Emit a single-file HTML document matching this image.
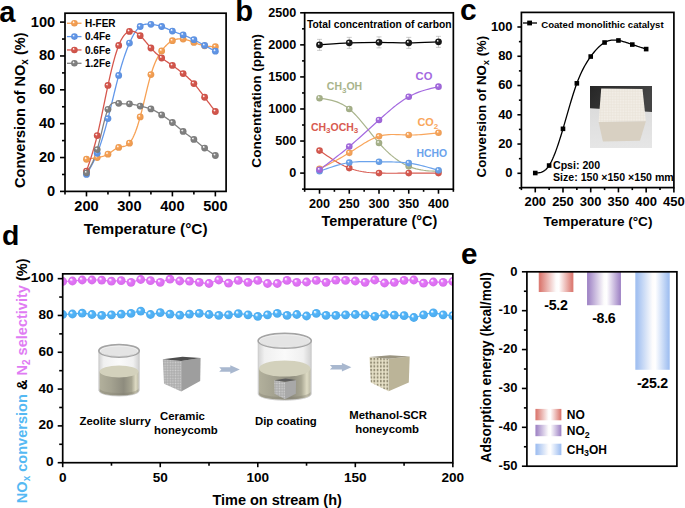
<!DOCTYPE html>
<html><head><meta charset="utf-8"><style>
html,body{margin:0;padding:0;background:#fff;}
svg{display:block;font-family:"Liberation Sans", sans-serif;}
</style></head><body>
<svg width="685" height="508" viewBox="0 0 685 508">
<defs><radialGradient id="g0" cx="0.5" cy="0.5" r="0.5" fx="0.32" fy="0.3"><stop offset="0" stop-color="#fef3ea"/><stop offset="0.12" stop-color="#fef3ea"/><stop offset="0.38" stop-color="#f7a154"/><stop offset="1" stop-color="#e8974e"/></radialGradient><radialGradient id="g1" cx="0.5" cy="0.5" r="0.5" fx="0.32" fy="0.3"><stop offset="0" stop-color="#ecf2fc"/><stop offset="0.12" stop-color="#ecf2fc"/><stop offset="0.38" stop-color="#6298ea"/><stop offset="1" stop-color="#5c8edb"/></radialGradient><radialGradient id="g2" cx="0.5" cy="0.5" r="0.5" fx="0.32" fy="0.3"><stop offset="0" stop-color="#faeae9"/><stop offset="0.12" stop-color="#faeae9"/><stop offset="0.38" stop-color="#d6574d"/><stop offset="1" stop-color="#c95148"/></radialGradient><radialGradient id="g3" cx="0.5" cy="0.5" r="0.5" fx="0.32" fy="0.3"><stop offset="0" stop-color="#f0f0f0"/><stop offset="0.12" stop-color="#f0f0f0"/><stop offset="0.38" stop-color="#828282"/><stop offset="1" stop-color="#7a7a7a"/></radialGradient><radialGradient id="g4" cx="0.5" cy="0.5" r="0.5" fx="0.32" fy="0.3"><stop offset="0" stop-color="#f4f6f1"/><stop offset="0.12" stop-color="#f4f6f1"/><stop offset="0.38" stop-color="#a9b48c"/><stop offset="1" stop-color="#9ea983"/></radialGradient><radialGradient id="g5" cx="0.5" cy="0.5" r="0.5" fx="0.32" fy="0.3"><stop offset="0" stop-color="#faebea"/><stop offset="0.12" stop-color="#faebea"/><stop offset="0.38" stop-color="#d85a50"/><stop offset="1" stop-color="#cb544b"/></radialGradient><radialGradient id="g6" cx="0.5" cy="0.5" r="0.5" fx="0.32" fy="0.3"><stop offset="0" stop-color="#fef4eb"/><stop offset="0.12" stop-color="#fef4eb"/><stop offset="0.38" stop-color="#f9a65c"/><stop offset="1" stop-color="#ea9c56"/></radialGradient><radialGradient id="g7" cx="0.5" cy="0.5" r="0.5" fx="0.32" fy="0.3"><stop offset="0" stop-color="#edf3fc"/><stop offset="0.12" stop-color="#edf3fc"/><stop offset="0.38" stop-color="#6ba3ec"/><stop offset="1" stop-color="#6499dd"/></radialGradient><radialGradient id="g8" cx="0.5" cy="0.5" r="0.5" fx="0.32" fy="0.3"><stop offset="0" stop-color="#f4edfb"/><stop offset="0.12" stop-color="#f4edfb"/><stop offset="0.38" stop-color="#a46ae0"/><stop offset="1" stop-color="#9a63d2"/></radialGradient><radialGradient id="g9" cx="0.5" cy="0.5" r="0.5" fx="0.32" fy="0.3"><stop offset="0" stop-color="#e3e3e3"/><stop offset="0.12" stop-color="#e3e3e3"/><stop offset="0.38" stop-color="#1a1a1a"/><stop offset="1" stop-color="#181818"/></radialGradient><clipPath id="clipd"><rect x="62.7" y="273.85" width="390.15000000000003" height="188.84999999999997"/></clipPath><radialGradient id="g10" cx="0.5" cy="0.5" r="0.5" fx="0.32" fy="0.3"><stop offset="0" stop-color="#fbeefe"/><stop offset="0.12" stop-color="#fbeefe"/><stop offset="0.38" stop-color="#e475f9"/><stop offset="1" stop-color="#d66dea"/></radialGradient><radialGradient id="g11" cx="0.5" cy="0.5" r="0.5" fx="0.32" fy="0.3"><stop offset="0" stop-color="#eaf6fe"/><stop offset="0.12" stop-color="#eaf6fe"/><stop offset="0.38" stop-color="#52b5fa"/><stop offset="1" stop-color="#4daaeb"/></radialGradient><linearGradient id="liq" x1="0" y1="0" x2="1" y2="0"><stop offset="0" stop-color="#b2b09c"/><stop offset="0.3" stop-color="#a4a290"/><stop offset="0.62" stop-color="#8e8c7e"/><stop offset="0.82" stop-color="#a8a692"/><stop offset="0.93" stop-color="#dedbc4"/><stop offset="1" stop-color="#bebca8"/></linearGradient>
<linearGradient id="glass" x1="0" y1="0" x2="1" y2="0"><stop offset="0" stop-color="#d4d4d4"/><stop offset="0.12" stop-color="#f0f0f0"/><stop offset="0.5" stop-color="#fafafa"/><stop offset="0.85" stop-color="#f0f0f0"/><stop offset="1" stop-color="#d0d0d0"/></linearGradient>
<pattern id="gcell" width="2.6" height="2.6" patternUnits="userSpaceOnUse"><rect width="2.6" height="2.6" fill="#a8a8a8"/><rect x="0.5" y="0.5" width="1.6" height="1.6" fill="#d0d0d0"/></pattern>
<pattern id="bcell" x="369.4" y="357" width="3.25" height="3.7" patternUnits="userSpaceOnUse"><rect width="3.25" height="3.7" fill="#e9e3ca"/><rect x="0.8" y="0.8" width="1.8" height="2.3" fill="#948e76"/></pattern><linearGradient id="bar0" x1="0" y1="0" x2="1" y2="0"><stop offset="0" stop-color="#dc7d75"/><stop offset="0.05" stop-color="#dc7d75"/><stop offset="0.5" stop-color="#fdfcfc"/><stop offset="0.58" stop-color="#fff"/><stop offset="0.96" stop-color="#dc7d75"/><stop offset="1" stop-color="#dc7d75"/></linearGradient><linearGradient id="bar1" x1="0" y1="0" x2="1" y2="0"><stop offset="0" stop-color="#a48ac8"/><stop offset="0.05" stop-color="#a48ac8"/><stop offset="0.5" stop-color="#fdfcfc"/><stop offset="0.58" stop-color="#fff"/><stop offset="0.96" stop-color="#a48ac8"/><stop offset="1" stop-color="#a48ac8"/></linearGradient><linearGradient id="bar2" x1="0" y1="0" x2="1" y2="0"><stop offset="0" stop-color="#a3c1f1"/><stop offset="0.05" stop-color="#a3c1f1"/><stop offset="0.5" stop-color="#fdfcfc"/><stop offset="0.58" stop-color="#fff"/><stop offset="0.96" stop-color="#a3c1f1"/><stop offset="1" stop-color="#a3c1f1"/></linearGradient></defs>
<rect width="685" height="508" fill="#fff"/>
<text x="-0.8" y="21.6" font-size="29" text-anchor="start" fill="#000" font-weight="bold" >a</text>
<line x1="60" y1="191.4" x2="65" y2="191.4" stroke="#000" stroke-width="1.6" />
<text x="55.2" y="195.8" font-size="14.6" text-anchor="end" fill="#000" font-weight="bold" >0</text>
<line x1="62" y1="174.47" x2="65" y2="174.47" stroke="#000" stroke-width="1.6" />
<line x1="60" y1="157.54" x2="65" y2="157.54" stroke="#000" stroke-width="1.6" />
<text x="55.2" y="161.94" font-size="14.6" text-anchor="end" fill="#000" font-weight="bold" >20</text>
<line x1="62" y1="140.61" x2="65" y2="140.61" stroke="#000" stroke-width="1.6" />
<line x1="60" y1="123.68" x2="65" y2="123.68" stroke="#000" stroke-width="1.6" />
<text x="55.2" y="128.08" font-size="14.6" text-anchor="end" fill="#000" font-weight="bold" >40</text>
<line x1="62" y1="106.75" x2="65" y2="106.75" stroke="#000" stroke-width="1.6" />
<line x1="60" y1="89.82" x2="65" y2="89.82" stroke="#000" stroke-width="1.6" />
<text x="55.2" y="94.22" font-size="14.6" text-anchor="end" fill="#000" font-weight="bold" >60</text>
<line x1="62" y1="72.89" x2="65" y2="72.89" stroke="#000" stroke-width="1.6" />
<line x1="60" y1="55.96" x2="65" y2="55.96" stroke="#000" stroke-width="1.6" />
<text x="55.2" y="60.36" font-size="14.6" text-anchor="end" fill="#000" font-weight="bold" >80</text>
<line x1="62" y1="39.03" x2="65" y2="39.03" stroke="#000" stroke-width="1.6" />
<line x1="60" y1="22.1" x2="65" y2="22.1" stroke="#000" stroke-width="1.6" />
<text x="55.2" y="26.5" font-size="14.6" text-anchor="end" fill="#000" font-weight="bold" >100</text>
<line x1="65" y1="191.4" x2="65" y2="194.6" stroke="#000" stroke-width="1.6" />
<line x1="86.48" y1="191.4" x2="86.48" y2="196.4" stroke="#000" stroke-width="1.6" />
<text x="86.48" y="211" font-size="14.6" text-anchor="middle" fill="#000" font-weight="bold" >200</text>
<line x1="107.96" y1="191.4" x2="107.96" y2="194.6" stroke="#000" stroke-width="1.6" />
<line x1="129.44" y1="191.4" x2="129.44" y2="196.4" stroke="#000" stroke-width="1.6" />
<text x="129.44" y="211" font-size="14.6" text-anchor="middle" fill="#000" font-weight="bold" >300</text>
<line x1="150.92" y1="191.4" x2="150.92" y2="194.6" stroke="#000" stroke-width="1.6" />
<line x1="172.4" y1="191.4" x2="172.4" y2="196.4" stroke="#000" stroke-width="1.6" />
<text x="172.4" y="211" font-size="14.6" text-anchor="middle" fill="#000" font-weight="bold" >400</text>
<line x1="193.88" y1="191.4" x2="193.88" y2="194.6" stroke="#000" stroke-width="1.6" />
<line x1="215.36" y1="191.4" x2="215.36" y2="196.4" stroke="#000" stroke-width="1.6" />
<text x="215.36" y="211" font-size="14.6" text-anchor="middle" fill="#000" font-weight="bold" >500</text>
<text x="145.6" y="233.6" font-size="15.4" text-anchor="middle" fill="#000" font-weight="bold" >Temperature (°C)</text>
<text transform="translate(24.8,110.2) rotate(-90)" font-size="14.5" text-anchor="middle" font-weight="bold">Conversion of NO<tspan font-size="10" dy="3">x</tspan><tspan dy="-3"> (%)</tspan></text>
<path d="M86.48,159.23 L87.38,159.1 L88.27,158.96 L89.17,158.83 L90.06,158.69 L90.95,158.55 L91.85,158.42 L92.75,158.27 L93.64,158.13 L94.53,157.99 L95.43,157.84 L96.33,157.69 L97.22,157.54 L98.11,157.38 L99.01,157.22 L99.91,157.04 L100.8,156.85 L101.7,156.64 L102.59,156.4 L103.48,156.13 L104.38,155.82 L105.28,155.47 L106.17,155.08 L107.07,154.65 L107.96,154.15 L108.86,153.61 L109.75,153.02 L110.65,152.39 L111.54,151.75 L112.44,151.09 L113.33,150.45 L114.22,149.82 L115.12,149.22 L116.01,148.66 L116.91,148.16 L117.8,147.73 L118.7,147.38 L119.59,147.12 L120.49,146.92 L121.38,146.77 L122.28,146.64 L123.17,146.49 L124.07,146.32 L124.96,146.08 L125.86,145.76 L126.75,145.34 L127.65,144.78 L128.54,144.06 L129.44,143.15 L130.34,142.04 L131.23,140.72 L132.12,139.2 L133.02,137.48 L133.91,135.56 L134.81,133.45 L135.71,131.15 L136.6,128.66 L137.5,125.99 L138.39,123.14 L139.28,120.11 L140.18,116.91 L141.08,113.54 L141.97,110.04 L142.87,106.43 L143.76,102.75 L144.66,99.03 L145.55,95.3 L146.45,91.6 L147.34,87.95 L148.24,84.4 L149.13,80.96 L150.03,77.68 L150.92,74.58 L151.82,71.7 L152.71,69.02 L153.61,66.54 L154.5,64.23 L155.4,62.1 L156.29,60.12 L157.19,58.29 L158.08,56.59 L158.97,55.02 L159.87,53.55 L160.76,52.17 L161.66,50.88 L162.56,49.66 L163.45,48.52 L164.34,47.44 L165.24,46.43 L166.13,45.49 L167.03,44.61 L167.92,43.81 L168.82,43.06 L169.71,42.38 L170.61,41.77 L171.5,41.21 L172.4,40.72 L173.29,40.29 L174.19,39.92 L175.08,39.6 L175.98,39.34 L176.87,39.14 L177.77,38.98 L178.66,38.88 L179.56,38.82 L180.45,38.81 L181.35,38.84 L182.24,38.92 L183.14,39.03 L184.03,39.18 L184.93,39.37 L185.82,39.59 L186.72,39.84 L187.61,40.11 L188.51,40.41 L189.41,40.72 L190.3,41.04 L191.19,41.38 L192.09,41.72 L192.98,42.07 L193.88,42.42 L194.78,42.76 L195.67,43.1 L196.56,43.43 L197.46,43.76 L198.35,44.07 L199.25,44.37 L200.15,44.65 L201.04,44.92 L201.94,45.18 L202.83,45.41 L203.72,45.62 L204.62,45.8 L205.52,45.96 L206.41,46.1 L207.31,46.22 L208.2,46.31 L209.09,46.39 L209.99,46.46 L210.88,46.51 L211.78,46.55 L212.67,46.58 L213.57,46.61 L214.46,46.63 L215.36,46.65" fill="none" stroke="#f7a154" stroke-width="1.3" stroke-linejoin="round"/>
<path d="M86.48,174.47 L87.38,172.94 L88.27,171.41 L89.17,169.85 L90.06,168.27 L90.95,166.64 L91.85,164.97 L92.75,163.23 L93.64,161.43 L94.53,159.54 L95.43,157.57 L96.33,155.49 L97.22,153.31 L98.11,151.01 L99.01,148.59 L99.91,146.05 L100.8,143.41 L101.7,140.66 L102.59,137.8 L103.48,134.84 L104.38,131.78 L105.28,128.62 L106.17,125.37 L107.07,122.03 L107.96,118.6 L108.86,115.09 L109.75,111.51 L110.65,107.87 L111.54,104.2 L112.44,100.51 L113.33,96.81 L114.22,93.13 L115.12,89.47 L116.01,85.86 L116.91,82.3 L117.8,78.82 L118.7,75.43 L119.59,72.15 L120.49,68.97 L121.38,65.9 L122.28,62.94 L123.17,60.08 L124.07,57.33 L124.96,54.69 L125.86,52.16 L126.75,49.73 L127.65,47.41 L128.54,45.2 L129.44,43.09 L130.34,41.09 L131.23,39.2 L132.12,37.42 L133.02,35.75 L133.91,34.19 L134.81,32.75 L135.71,31.41 L136.6,30.2 L137.5,29.1 L138.39,28.11 L139.28,27.25 L140.18,26.5 L141.08,25.88 L141.97,25.36 L142.87,24.95 L143.76,24.63 L144.66,24.39 L145.55,24.23 L146.45,24.14 L147.34,24.09 L148.24,24.1 L149.13,24.14 L150.03,24.21 L150.92,24.3 L151.82,24.4 L152.71,24.51 L153.61,24.63 L154.5,24.77 L155.4,24.92 L156.29,25.08 L157.19,25.27 L158.08,25.47 L158.97,25.69 L159.87,25.94 L160.76,26.21 L161.66,26.5 L162.56,26.82 L163.45,27.17 L164.34,27.53 L165.24,27.91 L166.13,28.3 L167.03,28.7 L167.92,29.1 L168.82,29.51 L169.71,29.91 L170.61,30.31 L171.5,30.7 L172.4,31.07 L173.29,31.43 L174.19,31.78 L175.08,32.11 L175.98,32.44 L176.87,32.76 L177.77,33.07 L178.66,33.38 L179.56,33.69 L180.45,34 L181.35,34.32 L182.24,34.64 L183.14,34.97 L184.03,35.31 L184.93,35.66 L185.82,36.02 L186.72,36.39 L187.61,36.77 L188.51,37.16 L189.41,37.57 L190.3,37.98 L191.19,38.4 L192.09,38.82 L192.98,39.26 L193.88,39.71 L194.78,40.16 L195.67,40.62 L196.56,41.09 L197.46,41.57 L198.35,42.05 L199.25,42.53 L200.15,43.01 L201.04,43.5 L201.94,43.99 L202.83,44.48 L203.72,44.97 L204.62,45.46 L205.52,45.95 L206.41,46.44 L207.31,46.92 L208.2,47.4 L209.09,47.88 L209.99,48.36 L210.88,48.84 L211.78,49.32 L212.67,49.79 L213.57,50.27 L214.46,50.74 L215.36,51.22" fill="none" stroke="#6298ea" stroke-width="1.3" stroke-linejoin="round"/>
<path d="M86.48,171.08 L87.38,168.47 L88.27,165.84 L89.17,163.18 L90.06,160.48 L90.95,157.72 L91.85,154.89 L92.75,151.97 L93.64,148.94 L94.53,145.8 L95.43,142.53 L96.33,139.11 L97.22,135.53 L98.11,131.78 L99.01,127.88 L99.91,123.85 L100.8,119.71 L101.7,115.48 L102.59,111.19 L103.48,106.87 L104.38,102.52 L105.28,98.18 L106.17,93.87 L107.07,89.61 L107.96,85.42 L108.86,81.32 L109.75,77.33 L110.65,73.46 L111.54,69.71 L112.44,66.1 L113.33,62.64 L114.22,59.33 L115.12,56.18 L116.01,53.21 L116.91,50.43 L117.8,47.84 L118.7,45.46 L119.59,43.29 L120.49,41.33 L121.38,39.57 L122.28,38 L123.17,36.62 L124.07,35.41 L124.96,34.37 L125.86,33.49 L126.75,32.76 L127.65,32.18 L128.54,31.73 L129.44,31.41 L130.34,31.21 L131.23,31.13 L132.12,31.16 L133.02,31.3 L133.91,31.54 L134.81,31.87 L135.71,32.3 L136.6,32.81 L137.5,33.41 L138.39,34.08 L139.28,34.83 L140.18,35.64 L141.08,36.52 L141.97,37.45 L142.87,38.43 L143.76,39.45 L144.66,40.5 L145.55,41.57 L146.45,42.66 L147.34,43.75 L148.24,44.84 L149.13,45.91 L150.03,46.97 L150.92,48 L151.82,49 L152.71,49.96 L153.61,50.89 L154.5,51.79 L155.4,52.66 L156.29,53.5 L157.19,54.31 L158.08,55.09 L158.97,55.85 L159.87,56.59 L160.76,57.3 L161.66,57.99 L162.56,58.66 L163.45,59.32 L164.34,59.95 L165.24,60.58 L166.13,61.2 L167.03,61.81 L167.92,62.41 L168.82,63.01 L169.71,63.61 L170.61,64.21 L171.5,64.82 L172.4,65.44 L173.29,66.07 L174.19,66.7 L175.08,67.35 L175.98,68.01 L176.87,68.67 L177.77,69.35 L178.66,70.03 L179.56,70.72 L180.45,71.42 L181.35,72.13 L182.24,72.84 L183.14,73.57 L184.03,74.3 L184.93,75.04 L185.82,75.79 L186.72,76.56 L187.61,77.35 L188.51,78.15 L189.41,78.98 L190.3,79.84 L191.19,80.72 L192.09,81.63 L192.98,82.58 L193.88,83.56 L194.78,84.57 L195.67,85.63 L196.56,86.71 L197.46,87.82 L198.35,88.95 L199.25,90.11 L200.15,91.28 L201.04,92.47 L201.94,93.66 L202.83,94.86 L203.72,96.07 L204.62,97.27 L205.52,98.47 L206.41,99.67 L207.31,100.86 L208.2,102.05 L209.09,103.23 L209.99,104.42 L210.88,105.6 L211.78,106.78 L212.67,107.96 L213.57,109.14 L214.46,110.31 L215.36,111.49" fill="none" stroke="#d6574d" stroke-width="1.3" stroke-linejoin="round"/>
<path d="M86.48,172.78 L87.38,171.42 L88.27,170.03 L89.17,168.6 L90.06,167.1 L90.95,165.5 L91.85,163.78 L92.75,161.92 L93.64,159.88 L94.53,157.66 L95.43,155.21 L96.33,152.53 L97.22,149.58 L98.11,146.36 L99.01,142.91 L99.91,139.29 L100.8,135.57 L101.7,131.8 L102.59,128.05 L103.48,124.37 L104.38,120.84 L105.28,117.5 L106.17,114.42 L107.07,111.66 L107.96,109.29 L108.86,107.34 L109.75,105.8 L110.65,104.61 L111.54,103.74 L112.44,103.16 L113.33,102.81 L114.22,102.65 L115.12,102.65 L116.01,102.76 L116.91,102.95 L117.8,103.16 L118.7,103.36 L119.59,103.52 L120.49,103.64 L121.38,103.72 L122.28,103.76 L123.17,103.78 L124.07,103.79 L124.96,103.79 L125.86,103.78 L126.75,103.78 L127.65,103.79 L128.54,103.82 L129.44,103.87 L130.34,103.96 L131.23,104.07 L132.12,104.22 L133.02,104.38 L133.91,104.56 L134.81,104.76 L135.71,104.97 L136.6,105.19 L137.5,105.41 L138.39,105.64 L139.28,105.86 L140.18,106.07 L141.08,106.28 L141.97,106.48 L142.87,106.68 L143.76,106.88 L144.66,107.09 L145.55,107.3 L146.45,107.53 L147.34,107.77 L148.24,108.03 L149.13,108.31 L150.03,108.61 L150.92,108.95 L151.82,109.32 L152.71,109.72 L153.61,110.15 L154.5,110.6 L155.4,111.08 L156.29,111.57 L157.19,112.09 L158.08,112.62 L158.97,113.17 L159.87,113.73 L160.76,114.3 L161.66,114.88 L162.56,115.46 L163.45,116.05 L164.34,116.64 L165.24,117.25 L166.13,117.86 L167.03,118.48 L167.92,119.12 L168.82,119.76 L169.71,120.42 L170.61,121.1 L171.5,121.79 L172.4,122.49 L173.29,123.22 L174.19,123.96 L175.08,124.71 L175.98,125.46 L176.87,126.23 L177.77,126.99 L178.66,127.76 L179.56,128.52 L180.45,129.27 L181.35,130.02 L182.24,130.75 L183.14,131.47 L184.03,132.17 L184.93,132.85 L185.82,133.52 L186.72,134.18 L187.61,134.83 L188.51,135.47 L189.41,136.12 L190.3,136.77 L191.19,137.42 L192.09,138.08 L192.98,138.74 L193.88,139.42 L194.78,140.12 L195.67,140.83 L196.56,141.55 L197.46,142.28 L198.35,143.01 L199.25,143.75 L200.15,144.48 L201.04,145.21 L201.94,145.94 L202.83,146.66 L203.72,147.37 L204.62,148.06 L205.52,148.74 L206.41,149.4 L207.31,150.05 L208.2,150.69 L209.09,151.31 L209.99,151.93 L210.88,152.54 L211.78,153.14 L212.67,153.74 L213.57,154.33 L214.46,154.92 L215.36,155.51" fill="none" stroke="#828282" stroke-width="1.3" stroke-linejoin="round"/>
<circle cx="86.48" cy="159.23" r="3.4" fill="url(#g0)"/>
<circle cx="97.22" cy="157.54" r="3.4" fill="url(#g0)"/>
<circle cx="107.96" cy="154.15" r="3.4" fill="url(#g0)"/>
<circle cx="118.7" cy="147.38" r="3.4" fill="url(#g0)"/>
<circle cx="129.44" cy="143.15" r="3.4" fill="url(#g0)"/>
<circle cx="140.18" cy="116.91" r="3.4" fill="url(#g0)"/>
<circle cx="150.92" cy="74.58" r="3.4" fill="url(#g0)"/>
<circle cx="161.66" cy="50.88" r="3.4" fill="url(#g0)"/>
<circle cx="172.4" cy="40.72" r="3.4" fill="url(#g0)"/>
<circle cx="183.14" cy="39.03" r="3.4" fill="url(#g0)"/>
<circle cx="193.88" cy="42.42" r="3.4" fill="url(#g0)"/>
<circle cx="204.62" cy="45.8" r="3.4" fill="url(#g0)"/>
<circle cx="215.36" cy="46.65" r="3.4" fill="url(#g0)"/>
<circle cx="86.48" cy="174.47" r="3.4" fill="url(#g1)"/>
<circle cx="97.22" cy="153.31" r="3.4" fill="url(#g1)"/>
<circle cx="107.96" cy="118.6" r="3.4" fill="url(#g1)"/>
<circle cx="118.7" cy="75.43" r="3.4" fill="url(#g1)"/>
<circle cx="129.44" cy="43.09" r="3.4" fill="url(#g1)"/>
<circle cx="140.18" cy="26.5" r="3.4" fill="url(#g1)"/>
<circle cx="150.92" cy="24.3" r="3.4" fill="url(#g1)"/>
<circle cx="161.66" cy="26.5" r="3.4" fill="url(#g1)"/>
<circle cx="172.4" cy="31.07" r="3.4" fill="url(#g1)"/>
<circle cx="183.14" cy="34.97" r="3.4" fill="url(#g1)"/>
<circle cx="193.88" cy="39.71" r="3.4" fill="url(#g1)"/>
<circle cx="204.62" cy="45.46" r="3.4" fill="url(#g1)"/>
<circle cx="215.36" cy="51.22" r="3.4" fill="url(#g1)"/>
<circle cx="86.48" cy="171.08" r="3.4" fill="url(#g2)"/>
<circle cx="97.22" cy="135.53" r="3.4" fill="url(#g2)"/>
<circle cx="107.96" cy="85.42" r="3.4" fill="url(#g2)"/>
<circle cx="118.7" cy="45.46" r="3.4" fill="url(#g2)"/>
<circle cx="129.44" cy="31.41" r="3.4" fill="url(#g2)"/>
<circle cx="140.18" cy="35.64" r="3.4" fill="url(#g2)"/>
<circle cx="150.92" cy="48" r="3.4" fill="url(#g2)"/>
<circle cx="161.66" cy="57.99" r="3.4" fill="url(#g2)"/>
<circle cx="172.4" cy="65.44" r="3.4" fill="url(#g2)"/>
<circle cx="183.14" cy="73.57" r="3.4" fill="url(#g2)"/>
<circle cx="193.88" cy="83.56" r="3.4" fill="url(#g2)"/>
<circle cx="204.62" cy="97.27" r="3.4" fill="url(#g2)"/>
<circle cx="215.36" cy="111.49" r="3.4" fill="url(#g2)"/>
<circle cx="86.48" cy="172.78" r="3.4" fill="url(#g3)"/>
<circle cx="97.22" cy="149.58" r="3.4" fill="url(#g3)"/>
<circle cx="107.96" cy="109.29" r="3.4" fill="url(#g3)"/>
<circle cx="118.7" cy="103.36" r="3.4" fill="url(#g3)"/>
<circle cx="129.44" cy="103.87" r="3.4" fill="url(#g3)"/>
<circle cx="140.18" cy="106.07" r="3.4" fill="url(#g3)"/>
<circle cx="150.92" cy="108.95" r="3.4" fill="url(#g3)"/>
<circle cx="161.66" cy="114.88" r="3.4" fill="url(#g3)"/>
<circle cx="172.4" cy="122.49" r="3.4" fill="url(#g3)"/>
<circle cx="183.14" cy="131.47" r="3.4" fill="url(#g3)"/>
<circle cx="193.88" cy="139.42" r="3.4" fill="url(#g3)"/>
<circle cx="204.62" cy="148.06" r="3.4" fill="url(#g3)"/>
<circle cx="215.36" cy="155.51" r="3.4" fill="url(#g3)"/>
<line x1="67" y1="23.25" x2="81.5" y2="23.25" stroke="#f7a154" stroke-width="1.3" />
<circle cx="74.4" cy="23.25" r="3.3" fill="url(#g0)"/>
<text x="85" y="26.85" font-size="10" text-anchor="start" fill="#000" font-weight="bold" >H-FER</text>
<line x1="67" y1="36.6" x2="81.5" y2="36.6" stroke="#6298ea" stroke-width="1.3" />
<circle cx="74.4" cy="36.6" r="3.3" fill="url(#g1)"/>
<text x="85" y="40.2" font-size="10" text-anchor="start" fill="#000" font-weight="bold" >0.4Fe</text>
<line x1="67" y1="49.95" x2="81.5" y2="49.95" stroke="#d6574d" stroke-width="1.3" />
<circle cx="74.4" cy="49.95" r="3.3" fill="url(#g2)"/>
<text x="85" y="53.55" font-size="10" text-anchor="start" fill="#000" font-weight="bold" >0.6Fe</text>
<line x1="67" y1="63.3" x2="81.5" y2="63.3" stroke="#828282" stroke-width="1.3" />
<circle cx="74.4" cy="63.3" r="3.3" fill="url(#g3)"/>
<text x="85" y="66.9" font-size="10" text-anchor="start" fill="#000" font-weight="bold" >1.2Fe</text>
<rect x="65" y="13.2" width="161.1" height="178.2" fill="none" stroke="#000" stroke-width="1.7"/>
<text x="235.2" y="21.2" font-size="29.2" text-anchor="start" fill="#000" font-weight="bold" >b</text>
<line x1="302.05" y1="189.13" x2="304.65" y2="189.13" stroke="#000" stroke-width="1.6" />
<line x1="300.15" y1="173.1" x2="304.65" y2="173.1" stroke="#000" stroke-width="1.6" />
<text x="296.3" y="176.9" font-size="12.6" text-anchor="end" fill="#000" font-weight="bold" >0</text>
<line x1="302.05" y1="157.07" x2="304.65" y2="157.07" stroke="#000" stroke-width="1.6" />
<line x1="300.15" y1="141.04" x2="304.65" y2="141.04" stroke="#000" stroke-width="1.6" />
<text x="296.3" y="144.84" font-size="12.6" text-anchor="end" fill="#000" font-weight="bold" >500</text>
<line x1="302.05" y1="125.01" x2="304.65" y2="125.01" stroke="#000" stroke-width="1.6" />
<line x1="300.15" y1="108.98" x2="304.65" y2="108.98" stroke="#000" stroke-width="1.6" />
<text x="296.3" y="112.78" font-size="12.6" text-anchor="end" fill="#000" font-weight="bold" >1000</text>
<line x1="302.05" y1="92.95" x2="304.65" y2="92.95" stroke="#000" stroke-width="1.6" />
<line x1="300.15" y1="76.92" x2="304.65" y2="76.92" stroke="#000" stroke-width="1.6" />
<text x="296.3" y="80.72" font-size="12.6" text-anchor="end" fill="#000" font-weight="bold" >1500</text>
<line x1="302.05" y1="60.89" x2="304.65" y2="60.89" stroke="#000" stroke-width="1.6" />
<line x1="300.15" y1="44.86" x2="304.65" y2="44.86" stroke="#000" stroke-width="1.6" />
<text x="296.3" y="48.66" font-size="12.6" text-anchor="end" fill="#000" font-weight="bold" >2000</text>
<line x1="302.05" y1="28.83" x2="304.65" y2="28.83" stroke="#000" stroke-width="1.6" />
<line x1="300.15" y1="12.8" x2="304.65" y2="12.8" stroke="#000" stroke-width="1.6" />
<text x="296.3" y="16.6" font-size="12.6" text-anchor="end" fill="#000" font-weight="bold" >2500</text>
<line x1="304.65" y1="189.2" x2="304.65" y2="191.8" stroke="#000" stroke-width="1.6" />
<line x1="319.52" y1="189.2" x2="319.52" y2="193.7" stroke="#000" stroke-width="1.6" />
<text x="319.52" y="207.6" font-size="12.6" text-anchor="middle" fill="#000" font-weight="bold" >200</text>
<line x1="334.39" y1="189.2" x2="334.39" y2="191.8" stroke="#000" stroke-width="1.6" />
<line x1="349.26" y1="189.2" x2="349.26" y2="193.7" stroke="#000" stroke-width="1.6" />
<text x="349.26" y="207.6" font-size="12.6" text-anchor="middle" fill="#000" font-weight="bold" >250</text>
<line x1="364.13" y1="189.2" x2="364.13" y2="191.8" stroke="#000" stroke-width="1.6" />
<line x1="379" y1="189.2" x2="379" y2="193.7" stroke="#000" stroke-width="1.6" />
<text x="379" y="207.6" font-size="12.6" text-anchor="middle" fill="#000" font-weight="bold" >300</text>
<line x1="393.87" y1="189.2" x2="393.87" y2="191.8" stroke="#000" stroke-width="1.6" />
<line x1="408.74" y1="189.2" x2="408.74" y2="193.7" stroke="#000" stroke-width="1.6" />
<text x="408.74" y="207.6" font-size="12.6" text-anchor="middle" fill="#000" font-weight="bold" >350</text>
<line x1="423.61" y1="189.2" x2="423.61" y2="191.8" stroke="#000" stroke-width="1.6" />
<line x1="438.48" y1="189.2" x2="438.48" y2="193.7" stroke="#000" stroke-width="1.6" />
<text x="438.48" y="207.6" font-size="12.6" text-anchor="middle" fill="#000" font-weight="bold" >400</text>
<line x1="453.35" y1="189.2" x2="453.35" y2="191.8" stroke="#000" stroke-width="1.6" />
<text x="379.4" y="226" font-size="14.4" text-anchor="middle" fill="#000" font-weight="bold" >Temperature (°C)</text>
<text transform="translate(261.4,100.8) rotate(-90)" font-size="13.6" text-anchor="middle" font-weight="bold">Concentration (ppm)</text>
<text x="307" y="28" font-size="10.3" text-anchor="start" fill="#000" font-weight="bold" >Total concentration of carbon</text>
<path d="M319.52,98.21 L322,98.55 L324.48,98.92 L326.95,99.34 L329.43,99.82 L331.91,100.4 L334.39,101.09 L336.87,101.92 L339.35,102.92 L341.82,104.1 L344.3,105.49 L346.78,107.11 L349.26,108.98 L351.74,111.12 L354.22,113.51 L356.69,116.1 L359.17,118.87 L361.65,121.77 L364.13,124.78 L366.61,127.86 L369.09,130.97 L371.56,134.07 L374.04,137.14 L376.52,140.14 L379,143.03 L381.48,145.78 L383.96,148.39 L386.44,150.86 L388.91,153.18 L391.39,155.35 L393.87,157.38 L396.35,159.25 L398.83,160.98 L401.31,162.56 L403.78,163.98 L406.26,165.25 L408.74,166.37 L411.22,167.33 L413.7,168.15 L416.18,168.84 L418.65,169.42 L421.13,169.89 L423.61,170.27 L426.09,170.57 L428.57,170.81 L431.05,170.99 L433.52,171.14 L436,171.26 L438.48,171.37" fill="none" stroke="#a9b48c" stroke-width="1.2" stroke-linejoin="round"/>
<path d="M319.52,150.59 L322,152.3 L324.48,154 L326.95,155.67 L329.43,157.32 L331.91,158.92 L334.39,160.47 L336.87,161.96 L339.35,163.37 L341.82,164.7 L344.3,165.94 L346.78,167.08 L349.26,168.1 L351.74,169 L354.22,169.78 L356.69,170.46 L359.17,171.03 L361.65,171.52 L364.13,171.92 L366.61,172.25 L369.09,172.52 L371.56,172.73 L374.04,172.89 L376.52,173.01 L379,173.1 L381.48,173.17 L383.96,173.21 L386.44,173.24 L388.91,173.26 L391.39,173.26 L393.87,173.25 L396.35,173.23 L398.83,173.21 L401.31,173.18 L403.78,173.15 L406.26,173.12 L408.74,173.1 L411.22,173.08 L413.7,173.07 L416.18,173.06 L418.65,173.05 L421.13,173.05 L423.61,173.05 L426.09,173.05 L428.57,173.06 L431.05,173.07 L433.52,173.08 L436,173.09 L438.48,173.1" fill="none" stroke="#d85a50" stroke-width="1.2" stroke-linejoin="round"/>
<path d="M319.52,168.8 L322,167.58 L324.48,166.35 L326.95,165.11 L329.43,163.86 L331.91,162.59 L334.39,161.29 L336.87,159.98 L339.35,158.63 L341.82,157.24 L344.3,155.82 L346.78,154.35 L349.26,152.84 L351.74,151.27 L354.22,149.68 L356.69,148.07 L359.17,146.47 L361.65,144.89 L364.13,143.36 L366.61,141.9 L369.09,140.53 L371.56,139.26 L374.04,138.12 L376.52,137.12 L379,136.3 L381.48,135.65 L383.96,135.16 L386.44,134.83 L388.91,134.61 L391.39,134.51 L393.87,134.49 L396.35,134.53 L398.83,134.62 L401.31,134.73 L403.78,134.85 L406.26,134.95 L408.74,135.01 L411.22,135.02 L413.7,134.98 L416.18,134.9 L418.65,134.77 L421.13,134.6 L423.61,134.4 L426.09,134.17 L428.57,133.92 L431.05,133.65 L433.52,133.36 L436,133.07 L438.48,132.77" fill="none" stroke="#f9a65c" stroke-width="1.2" stroke-linejoin="round"/>
<path d="M319.52,171.3 L322,170.41 L324.48,169.51 L326.95,168.63 L329.43,167.78 L331.91,166.95 L334.39,166.16 L336.87,165.41 L339.35,164.72 L341.82,164.08 L344.3,163.51 L346.78,163.01 L349.26,162.58 L351.74,162.25 L354.22,161.99 L356.69,161.8 L359.17,161.67 L361.65,161.6 L364.13,161.57 L366.61,161.57 L369.09,161.6 L371.56,161.65 L374.04,161.71 L376.52,161.77 L379,161.81 L381.48,161.85 L383.96,161.87 L386.44,161.9 L388.91,161.92 L391.39,161.96 L393.87,162.01 L396.35,162.09 L398.83,162.2 L401.31,162.35 L403.78,162.54 L406.26,162.79 L408.74,163.1 L411.22,163.47 L413.7,163.9 L416.18,164.39 L418.65,164.92 L421.13,165.5 L423.61,166.12 L426.09,166.78 L428.57,167.46 L431.05,168.16 L433.52,168.88 L436,169.61 L438.48,170.34" fill="none" stroke="#6ba3ec" stroke-width="1.2" stroke-linejoin="round"/>
<path d="M319.52,169.83 L322,167.96 L324.48,166.09 L326.95,164.22 L329.43,162.33 L331.91,160.43 L334.39,158.52 L336.87,156.59 L339.35,154.64 L341.82,152.66 L344.3,150.66 L346.78,148.62 L349.26,146.55 L351.74,144.45 L354.22,142.32 L356.69,140.15 L359.17,137.96 L361.65,135.75 L364.13,133.52 L366.61,131.28 L369.09,129.03 L371.56,126.78 L374.04,124.52 L376.52,122.26 L379,120.01 L381.48,117.77 L383.96,115.55 L386.44,113.36 L388.91,111.21 L391.39,109.11 L393.87,107.07 L396.35,105.1 L398.83,103.22 L401.31,101.43 L403.78,99.75 L406.26,98.18 L408.74,96.73 L411.22,95.42 L413.7,94.23 L416.18,93.15 L418.65,92.18 L421.13,91.29 L423.61,90.48 L426.09,89.74 L428.57,89.06 L431.05,88.42 L433.52,87.82 L436,87.24 L438.48,86.67" fill="none" stroke="#a46ae0" stroke-width="1.2" stroke-linejoin="round"/>
<circle cx="319.52" cy="98.21" r="3.3" fill="url(#g4)"/>
<circle cx="349.26" cy="108.98" r="3.3" fill="url(#g4)"/>
<circle cx="379" cy="143.03" r="3.3" fill="url(#g4)"/>
<circle cx="408.74" cy="166.37" r="3.3" fill="url(#g4)"/>
<circle cx="438.48" cy="171.37" r="3.3" fill="url(#g4)"/>
<circle cx="319.52" cy="150.59" r="3.3" fill="url(#g5)"/>
<circle cx="349.26" cy="168.1" r="3.3" fill="url(#g5)"/>
<circle cx="379" cy="173.1" r="3.3" fill="url(#g5)"/>
<circle cx="408.74" cy="173.1" r="3.3" fill="url(#g5)"/>
<circle cx="438.48" cy="173.1" r="3.3" fill="url(#g5)"/>
<circle cx="319.52" cy="168.8" r="3.3" fill="url(#g6)"/>
<circle cx="349.26" cy="152.84" r="3.3" fill="url(#g6)"/>
<circle cx="379" cy="136.3" r="3.3" fill="url(#g6)"/>
<circle cx="408.74" cy="135.01" r="3.3" fill="url(#g6)"/>
<circle cx="438.48" cy="132.77" r="3.3" fill="url(#g6)"/>
<circle cx="319.52" cy="171.3" r="3.3" fill="url(#g7)"/>
<circle cx="349.26" cy="162.58" r="3.3" fill="url(#g7)"/>
<circle cx="379" cy="161.81" r="3.3" fill="url(#g7)"/>
<circle cx="408.74" cy="163.1" r="3.3" fill="url(#g7)"/>
<circle cx="438.48" cy="170.34" r="3.3" fill="url(#g7)"/>
<circle cx="319.52" cy="169.83" r="3.3" fill="url(#g8)"/>
<circle cx="349.26" cy="146.55" r="3.3" fill="url(#g8)"/>
<circle cx="379" cy="120.01" r="3.3" fill="url(#g8)"/>
<circle cx="408.74" cy="96.73" r="3.3" fill="url(#g8)"/>
<circle cx="438.48" cy="86.67" r="3.3" fill="url(#g8)"/>
<path d="M319.52,44.86 C324.48,44.53 339.35,43.29 349.26,42.87 C359.17,42.46 369.09,42.36 379,42.36 C388.91,42.36 398.83,42.96 408.74,42.87 C418.65,42.79 433.52,42.02 438.48,41.85" fill="none" stroke="#000" stroke-width="1.2"/>
<line x1="319.52" y1="39.36" x2="319.52" y2="50.36" stroke="#aaa" stroke-width="0.6" />
<line x1="317.02" y1="39.36" x2="322.02" y2="39.36" stroke="#aaa" stroke-width="0.6" />
<line x1="317.02" y1="50.36" x2="322.02" y2="50.36" stroke="#aaa" stroke-width="0.6" />
<line x1="349.26" y1="37.37" x2="349.26" y2="48.37" stroke="#aaa" stroke-width="0.6" />
<line x1="346.76" y1="37.37" x2="351.76" y2="37.37" stroke="#aaa" stroke-width="0.6" />
<line x1="346.76" y1="48.37" x2="351.76" y2="48.37" stroke="#aaa" stroke-width="0.6" />
<line x1="379" y1="36.86" x2="379" y2="47.86" stroke="#aaa" stroke-width="0.6" />
<line x1="376.5" y1="36.86" x2="381.5" y2="36.86" stroke="#aaa" stroke-width="0.6" />
<line x1="376.5" y1="47.86" x2="381.5" y2="47.86" stroke="#aaa" stroke-width="0.6" />
<line x1="408.74" y1="37.37" x2="408.74" y2="48.37" stroke="#aaa" stroke-width="0.6" />
<line x1="406.24" y1="37.37" x2="411.24" y2="37.37" stroke="#aaa" stroke-width="0.6" />
<line x1="406.24" y1="48.37" x2="411.24" y2="48.37" stroke="#aaa" stroke-width="0.6" />
<line x1="438.48" y1="36.35" x2="438.48" y2="47.35" stroke="#aaa" stroke-width="0.6" />
<line x1="435.98" y1="36.35" x2="440.98" y2="36.35" stroke="#aaa" stroke-width="0.6" />
<line x1="435.98" y1="47.35" x2="440.98" y2="47.35" stroke="#aaa" stroke-width="0.6" />
<circle cx="319.52" cy="44.86" r="3.4" fill="url(#g9)"/>
<circle cx="349.26" cy="42.87" r="3.4" fill="url(#g9)"/>
<circle cx="379" cy="42.36" r="3.4" fill="url(#g9)"/>
<circle cx="408.74" cy="42.87" r="3.4" fill="url(#g9)"/>
<circle cx="438.48" cy="41.85" r="3.4" fill="url(#g9)"/>
<text x="326.8" y="89.8" font-size="10.5" text-anchor="start" fill="#a9b48c" font-weight="bold" >CH<tspan font-size="8" dy="2.8">3</tspan><tspan dy="-2.8">OH</tspan></text>
<text x="415.6" y="79.6" font-size="11.2" text-anchor="start" fill="#a46ae0" font-weight="bold" >CO</text>
<text x="417.5" y="125.8" font-size="10.9" text-anchor="start" fill="#f9a65c" font-weight="bold" >CO<tspan font-size="8" dy="2.8">2</tspan></text>
<text x="310.9" y="130.6" font-size="10.5" text-anchor="start" fill="#d85a50" font-weight="bold" >CH<tspan font-size="8" dy="2.8">3</tspan><tspan dy="-2.8">OCH</tspan><tspan font-size="8" dy="2.8">3</tspan></text>
<text x="416.6" y="156.9" font-size="10.4" text-anchor="start" fill="#6ba3ec" font-weight="bold" >HCHO</text>
<rect x="304.65" y="12.8" width="148.7" height="176.4" fill="none" stroke="#000" stroke-width="1.7"/>
<text x="460" y="19.9" font-size="30" text-anchor="start" fill="#000" font-weight="bold" >c</text>
<line x1="518.9" y1="187.93" x2="521.4" y2="187.93" stroke="#000" stroke-width="1.6" />
<line x1="517.4" y1="173.3" x2="521.4" y2="173.3" stroke="#000" stroke-width="1.6" />
<text x="512.6" y="177.1" font-size="13" text-anchor="end" fill="#000" font-weight="bold" >0</text>
<line x1="518.9" y1="158.67" x2="521.4" y2="158.67" stroke="#000" stroke-width="1.6" />
<line x1="517.4" y1="144.04" x2="521.4" y2="144.04" stroke="#000" stroke-width="1.6" />
<text x="512.6" y="147.84" font-size="13" text-anchor="end" fill="#000" font-weight="bold" >20</text>
<line x1="518.9" y1="129.41" x2="521.4" y2="129.41" stroke="#000" stroke-width="1.6" />
<line x1="517.4" y1="114.78" x2="521.4" y2="114.78" stroke="#000" stroke-width="1.6" />
<text x="512.6" y="118.58" font-size="13" text-anchor="end" fill="#000" font-weight="bold" >40</text>
<line x1="518.9" y1="100.15" x2="521.4" y2="100.15" stroke="#000" stroke-width="1.6" />
<line x1="517.4" y1="85.52" x2="521.4" y2="85.52" stroke="#000" stroke-width="1.6" />
<text x="512.6" y="89.32" font-size="13" text-anchor="end" fill="#000" font-weight="bold" >60</text>
<line x1="518.9" y1="70.89" x2="521.4" y2="70.89" stroke="#000" stroke-width="1.6" />
<line x1="517.4" y1="56.26" x2="521.4" y2="56.26" stroke="#000" stroke-width="1.6" />
<text x="512.6" y="60.06" font-size="13" text-anchor="end" fill="#000" font-weight="bold" >80</text>
<line x1="518.9" y1="41.63" x2="521.4" y2="41.63" stroke="#000" stroke-width="1.6" />
<line x1="517.4" y1="27" x2="521.4" y2="27" stroke="#000" stroke-width="1.6" />
<text x="512.6" y="30.8" font-size="13" text-anchor="end" fill="#000" font-weight="bold" >100</text>
<line x1="521.4" y1="187.6" x2="521.4" y2="190.1" stroke="#000" stroke-width="1.6" />
<line x1="535.26" y1="187.6" x2="535.26" y2="192.4" stroke="#000" stroke-width="1.6" />
<text x="535.26" y="205.8" font-size="13" text-anchor="middle" fill="#000" font-weight="bold" >200</text>
<line x1="549.12" y1="187.6" x2="549.12" y2="190.1" stroke="#000" stroke-width="1.6" />
<line x1="562.99" y1="187.6" x2="562.99" y2="192.4" stroke="#000" stroke-width="1.6" />
<text x="562.99" y="205.8" font-size="13" text-anchor="middle" fill="#000" font-weight="bold" >250</text>
<line x1="576.85" y1="187.6" x2="576.85" y2="190.1" stroke="#000" stroke-width="1.6" />
<line x1="590.71" y1="187.6" x2="590.71" y2="192.4" stroke="#000" stroke-width="1.6" />
<text x="590.71" y="205.8" font-size="13" text-anchor="middle" fill="#000" font-weight="bold" >300</text>
<line x1="604.57" y1="187.6" x2="604.57" y2="190.1" stroke="#000" stroke-width="1.6" />
<line x1="618.44" y1="187.6" x2="618.44" y2="192.4" stroke="#000" stroke-width="1.6" />
<text x="618.44" y="205.8" font-size="13" text-anchor="middle" fill="#000" font-weight="bold" >350</text>
<line x1="632.3" y1="187.6" x2="632.3" y2="190.1" stroke="#000" stroke-width="1.6" />
<line x1="646.16" y1="187.6" x2="646.16" y2="192.4" stroke="#000" stroke-width="1.6" />
<text x="646.16" y="205.8" font-size="13" text-anchor="middle" fill="#000" font-weight="bold" >400</text>
<line x1="660.02" y1="187.6" x2="660.02" y2="190.1" stroke="#000" stroke-width="1.6" />
<line x1="673.89" y1="187.6" x2="673.89" y2="192.4" stroke="#000" stroke-width="1.6" />
<text x="673.89" y="205.8" font-size="13" text-anchor="middle" fill="#000" font-weight="bold" >450</text>
<text x="597.9" y="225.5" font-size="13.55" text-anchor="middle" fill="#000" font-weight="bold" >Temperature (°C)</text>
<text transform="translate(485.8,106.6) rotate(-90)" font-size="13.2" text-anchor="middle" font-weight="bold">Conversion of NO<tspan font-size="9.5" dy="3">x</tspan><tspan dy="-3"> (%)</tspan></text>
<g>
<defs><linearGradient id="pbg" x1="0" y1="0" x2="1" y2="0.3"><stop offset="0" stop-color="#262626"/><stop offset="1" stop-color="#444"/></linearGradient>
<linearGradient id="pfl" x1="0" y1="0" x2="0" y2="1"><stop offset="0" stop-color="#d6d6d6"/><stop offset="1" stop-color="#e6e6e6"/></linearGradient>
<pattern id="hc" width="1.6" height="1.6" patternUnits="userSpaceOnUse"><rect width="1.6" height="1.6" fill="#f3efe8"/><rect width="0.4" height="1.6" fill="#e7e1d6"/><rect width="1.6" height="0.4" fill="#e7e1d6"/></pattern></defs>
<rect x="590" y="86" width="62" height="62" fill="url(#pfl)"/>
<polygon points="590,86 652,86 652,112 590,108.2" fill="url(#pbg)"/>
<polygon points="601.2,88.6 642.5,88.9 645.9,121.3 598.6,122" fill="url(#hc)"/>
<polygon points="598.6,122 645.9,121.3 640,140.8 602.9,141.5" fill="#d8d0c2"/>
</g>
<path d="M535.26,173.01 L536.42,172.96 L537.57,172.88 L538.73,172.76 L539.88,172.57 L541.04,172.27 L542.19,171.86 L543.35,171.31 L544.5,170.59 L545.66,169.68 L546.81,168.55 L547.97,167.18 L549.12,165.55 L550.28,163.63 L551.44,161.45 L552.59,159.02 L553.75,156.35 L554.9,153.47 L556.06,150.39 L557.21,147.14 L558.37,143.72 L559.52,140.17 L560.68,136.48 L561.83,132.7 L562.99,128.82 L564.14,124.88 L565.3,120.89 L566.45,116.88 L567.61,112.87 L568.76,108.87 L569.92,104.92 L571.07,101.03 L572.23,97.22 L573.38,93.53 L574.54,89.97 L575.69,86.56 L576.85,83.33 L578.01,80.28 L579.16,77.43 L580.32,74.75 L581.47,72.23 L582.63,69.86 L583.78,67.64 L584.94,65.54 L586.09,63.55 L587.25,61.68 L588.4,59.89 L589.56,58.19 L590.71,56.55 L591.87,54.98 L593.02,53.47 L594.18,52.02 L595.33,50.64 L596.49,49.34 L597.64,48.1 L598.8,46.95 L599.95,45.88 L601.11,44.9 L602.26,44.01 L603.42,43.21 L604.57,42.51 L605.73,41.9 L606.89,41.4 L608.04,40.98 L609.2,40.65 L610.35,40.39 L611.51,40.22 L612.66,40.11 L613.82,40.07 L614.97,40.09 L616.13,40.16 L617.28,40.29 L618.44,40.46 L619.59,40.67 L620.75,40.92 L621.9,41.2 L623.06,41.51 L624.21,41.84 L625.37,42.19 L626.52,42.57 L627.68,42.95 L628.83,43.35 L629.99,43.75 L631.14,44.15 L632.3,44.56 L633.46,44.95 L634.61,45.35 L635.77,45.73 L636.92,46.12 L638.08,46.5 L639.23,46.87 L640.39,47.25 L641.54,47.62 L642.7,47.99 L643.85,48.36 L645.01,48.72 L646.16,49.09" fill="none" stroke="#000" stroke-width="1.3" stroke-linejoin="round"/>
<rect x="532.96" y="170.71" width="4.6" height="4.6" fill="#000"/>
<rect x="546.83" y="163.25" width="4.6" height="4.6" fill="#000"/>
<rect x="560.69" y="126.52" width="4.6" height="4.6" fill="#000"/>
<rect x="574.55" y="81.03" width="4.6" height="4.6" fill="#000"/>
<rect x="588.41" y="54.25" width="4.6" height="4.6" fill="#000"/>
<rect x="602.27" y="40.21" width="4.6" height="4.6" fill="#000"/>
<rect x="616.14" y="38.16" width="4.6" height="4.6" fill="#000"/>
<rect x="630" y="42.26" width="4.6" height="4.6" fill="#000"/>
<rect x="643.86" y="46.79" width="4.6" height="4.6" fill="#000"/>
<line x1="523" y1="23" x2="537" y2="23" stroke="#000" stroke-width="1.3" />
<rect x="527.2" y="20.6" width="4.8" height="4.8" fill="#000"/>
<text x="541.2" y="28.1" font-size="9.65" text-anchor="start" fill="#000" font-weight="bold" >Coated monolithic catalyst</text>
<text x="553" y="169.3" font-size="10.6" text-anchor="start" fill="#000" font-weight="bold" >Cpsi: 200</text>
<text x="553" y="180.6" font-size="10.6" text-anchor="start" fill="#000" font-weight="bold" >Size: 150 ×150 ×150 mm</text>
<rect x="521.4" y="12.4" width="152.5" height="175.2" fill="none" stroke="#000" stroke-width="1.7"/>
<text x="1.9" y="244.9" font-size="28.4" text-anchor="start" fill="#000" font-weight="bold" >d</text>
<line x1="57.7" y1="462.7" x2="62.7" y2="462.7" stroke="#000" stroke-width="1.6" />
<text x="53.5" y="466.3" font-size="13.6" text-anchor="end" fill="#000" font-weight="bold" >0</text>
<line x1="59.2" y1="444.29" x2="62.7" y2="444.29" stroke="#000" stroke-width="1.6" />
<line x1="57.7" y1="425.89" x2="62.7" y2="425.89" stroke="#000" stroke-width="1.6" />
<text x="53.5" y="429.49" font-size="13.6" text-anchor="end" fill="#000" font-weight="bold" >20</text>
<line x1="59.2" y1="407.49" x2="62.7" y2="407.49" stroke="#000" stroke-width="1.6" />
<line x1="57.7" y1="389.08" x2="62.7" y2="389.08" stroke="#000" stroke-width="1.6" />
<text x="53.5" y="392.68" font-size="13.6" text-anchor="end" fill="#000" font-weight="bold" >40</text>
<line x1="59.2" y1="370.67" x2="62.7" y2="370.67" stroke="#000" stroke-width="1.6" />
<line x1="57.7" y1="352.27" x2="62.7" y2="352.27" stroke="#000" stroke-width="1.6" />
<text x="53.5" y="355.87" font-size="13.6" text-anchor="end" fill="#000" font-weight="bold" >60</text>
<line x1="59.2" y1="333.87" x2="62.7" y2="333.87" stroke="#000" stroke-width="1.6" />
<line x1="57.7" y1="315.46" x2="62.7" y2="315.46" stroke="#000" stroke-width="1.6" />
<text x="53.5" y="319.06" font-size="13.6" text-anchor="end" fill="#000" font-weight="bold" >80</text>
<line x1="59.2" y1="297.05" x2="62.7" y2="297.05" stroke="#000" stroke-width="1.6" />
<line x1="57.7" y1="278.65" x2="62.7" y2="278.65" stroke="#000" stroke-width="1.6" />
<text x="53.5" y="282.25" font-size="13.6" text-anchor="end" fill="#000" font-weight="bold" >100</text>
<line x1="62.7" y1="462.7" x2="62.7" y2="467.2" stroke="#000" stroke-width="1.6" />
<text x="62.7" y="482.2" font-size="13.6" text-anchor="middle" fill="#000" font-weight="bold" >0</text>
<line x1="111.47" y1="462.7" x2="111.47" y2="465.7" stroke="#000" stroke-width="1.6" />
<line x1="160.24" y1="462.7" x2="160.24" y2="467.2" stroke="#000" stroke-width="1.6" />
<text x="160.24" y="482.2" font-size="13.6" text-anchor="middle" fill="#000" font-weight="bold" >50</text>
<line x1="209.01" y1="462.7" x2="209.01" y2="465.7" stroke="#000" stroke-width="1.6" />
<line x1="257.77" y1="462.7" x2="257.77" y2="467.2" stroke="#000" stroke-width="1.6" />
<text x="257.77" y="482.2" font-size="13.6" text-anchor="middle" fill="#000" font-weight="bold" >100</text>
<line x1="306.54" y1="462.7" x2="306.54" y2="465.7" stroke="#000" stroke-width="1.6" />
<line x1="355.31" y1="462.7" x2="355.31" y2="467.2" stroke="#000" stroke-width="1.6" />
<text x="355.31" y="482.2" font-size="13.6" text-anchor="middle" fill="#000" font-weight="bold" >150</text>
<line x1="404.08" y1="462.7" x2="404.08" y2="465.7" stroke="#000" stroke-width="1.6" />
<line x1="452.85" y1="462.7" x2="452.85" y2="467.2" stroke="#000" stroke-width="1.6" />
<text x="452.85" y="482.2" font-size="13.6" text-anchor="middle" fill="#000" font-weight="bold" >200</text>
<text x="212.4" y="504.7" font-size="14.5" text-anchor="start" fill="#000" font-weight="bold" >Time on stream (h)</text>
<text transform="translate(26.9,503.2) rotate(-90)" font-size="14.55" font-weight="bold"><tspan fill="#55b9f3">NO<tspan font-size="10" dy="3">x</tspan><tspan dy="-3"> conversion </tspan></tspan><tspan fill="#000">&amp; </tspan><tspan fill="#e07cf3">N<tspan font-size="10" dy="3">2</tspan><tspan dy="-3"> selectivity </tspan></tspan><tspan fill="#000">(%)</tspan></text>
<g clip-path="url(#clipd)">
<path d="M62.7,281.5 C64.33,281.42 69.2,281.25 72.45,281 C75.7,280.75 78.96,280.17 82.21,280 C85.46,279.83 88.71,279.98 91.96,280 C95.21,280.02 98.46,279.9 101.72,280.1 C104.97,280.3 108.22,281.1 111.47,281.2 C114.72,281.3 117.97,280.52 121.22,280.7 C124.47,280.88 127.72,282.5 130.98,282.3 C134.23,282.1 137.48,279.77 140.73,279.5 C143.98,279.23 147.23,280.23 150.48,280.7 C153.73,281.17 156.99,282.55 160.24,282.3 C163.49,282.05 166.74,279.42 169.99,279.2 C173.24,278.98 176.49,280.67 179.75,281 C183,281.33 186.25,280.98 189.5,281.2 C192.75,281.42 196,281.92 199.25,282.3 C202.5,282.68 205.76,283.88 209.01,283.5 C212.26,283.12 215.51,280.05 218.76,280 C222.01,279.95 225.26,283.13 228.51,283.2 C231.77,283.27 235.02,280.55 238.27,280.4 C241.52,280.25 244.77,282.3 248.02,282.3 C251.27,282.3 254.52,280.2 257.77,280.4 C261.03,280.6 264.28,282.98 267.53,283.5 C270.78,284.02 274.03,284.02 277.28,283.5 C280.53,282.98 283.78,280.6 287.04,280.4 C290.29,280.2 293.54,282.03 296.79,282.3 C300.04,282.57 303.29,282.32 306.54,282 C309.79,281.68 313.05,280.35 316.3,280.4 C319.55,280.45 322.8,282.35 326.05,282.3 C329.3,282.25 332.55,280.42 335.81,280.1 C339.06,279.78 342.31,280.25 345.56,280.4 C348.81,280.55 352.06,280.68 355.31,281 C358.56,281.32 361.81,282.47 365.07,282.3 C368.32,282.13 371.57,279.88 374.82,280 C378.07,280.12 381.32,282.62 384.57,283 C387.82,283.38 391.08,282.73 394.33,282.3 C397.58,281.87 400.83,280.78 404.08,280.4 C407.33,280.02 410.58,279.53 413.83,280 C417.09,280.47 420.34,282.87 423.59,283.2 C426.84,283.53 430.09,282.15 433.34,282 C436.59,281.85 439.85,282.38 443.1,282.3 C446.35,282.22 451.22,281.63 452.85,281.5" fill="none" stroke="#e475f9" stroke-width="1.2"/>
<circle cx="62.7" cy="281.5" r="4.4" fill="url(#g10)"/>
<circle cx="72.45" cy="281" r="4.4" fill="url(#g10)"/>
<circle cx="82.21" cy="280" r="4.4" fill="url(#g10)"/>
<circle cx="91.96" cy="280" r="4.4" fill="url(#g10)"/>
<circle cx="101.72" cy="280.1" r="4.4" fill="url(#g10)"/>
<circle cx="111.47" cy="281.2" r="4.4" fill="url(#g10)"/>
<circle cx="121.22" cy="280.7" r="4.4" fill="url(#g10)"/>
<circle cx="130.98" cy="282.3" r="4.4" fill="url(#g10)"/>
<circle cx="140.73" cy="279.5" r="4.4" fill="url(#g10)"/>
<circle cx="150.48" cy="280.7" r="4.4" fill="url(#g10)"/>
<circle cx="160.24" cy="282.3" r="4.4" fill="url(#g10)"/>
<circle cx="169.99" cy="279.2" r="4.4" fill="url(#g10)"/>
<circle cx="179.75" cy="281" r="4.4" fill="url(#g10)"/>
<circle cx="189.5" cy="281.2" r="4.4" fill="url(#g10)"/>
<circle cx="199.25" cy="282.3" r="4.4" fill="url(#g10)"/>
<circle cx="209.01" cy="283.5" r="4.4" fill="url(#g10)"/>
<circle cx="218.76" cy="280" r="4.4" fill="url(#g10)"/>
<circle cx="228.51" cy="283.2" r="4.4" fill="url(#g10)"/>
<circle cx="238.27" cy="280.4" r="4.4" fill="url(#g10)"/>
<circle cx="248.02" cy="282.3" r="4.4" fill="url(#g10)"/>
<circle cx="257.77" cy="280.4" r="4.4" fill="url(#g10)"/>
<circle cx="267.53" cy="283.5" r="4.4" fill="url(#g10)"/>
<circle cx="277.28" cy="283.5" r="4.4" fill="url(#g10)"/>
<circle cx="287.04" cy="280.4" r="4.4" fill="url(#g10)"/>
<circle cx="296.79" cy="282.3" r="4.4" fill="url(#g10)"/>
<circle cx="306.54" cy="282" r="4.4" fill="url(#g10)"/>
<circle cx="316.3" cy="280.4" r="4.4" fill="url(#g10)"/>
<circle cx="326.05" cy="282.3" r="4.4" fill="url(#g10)"/>
<circle cx="335.81" cy="280.1" r="4.4" fill="url(#g10)"/>
<circle cx="345.56" cy="280.4" r="4.4" fill="url(#g10)"/>
<circle cx="355.31" cy="281" r="4.4" fill="url(#g10)"/>
<circle cx="365.07" cy="282.3" r="4.4" fill="url(#g10)"/>
<circle cx="374.82" cy="280" r="4.4" fill="url(#g10)"/>
<circle cx="384.57" cy="283" r="4.4" fill="url(#g10)"/>
<circle cx="394.33" cy="282.3" r="4.4" fill="url(#g10)"/>
<circle cx="404.08" cy="280.4" r="4.4" fill="url(#g10)"/>
<circle cx="413.83" cy="280" r="4.4" fill="url(#g10)"/>
<circle cx="423.59" cy="283.2" r="4.4" fill="url(#g10)"/>
<circle cx="433.34" cy="282" r="4.4" fill="url(#g10)"/>
<circle cx="443.1" cy="282.3" r="4.4" fill="url(#g10)"/>
<circle cx="452.85" cy="281.5" r="4.4" fill="url(#g10)"/>
<path d="M62.7,314.5 C64.33,314.42 69.2,314.22 72.45,314 C75.7,313.78 78.96,313.12 82.21,313.2 C85.46,313.28 88.71,314.13 91.96,314.5 C95.21,314.87 98.46,315.35 101.72,315.4 C104.97,315.45 108.22,315.02 111.47,314.8 C114.72,314.58 117.97,314.33 121.22,314.1 C124.47,313.87 127.72,313.9 130.98,313.4 C134.23,312.9 137.48,310.92 140.73,311.1 C143.98,311.28 147.23,314.25 150.48,314.5 C153.73,314.75 156.99,312.67 160.24,312.6 C163.49,312.53 166.74,313.67 169.99,314.1 C173.24,314.53 176.49,315.2 179.75,315.2 C183,315.2 186.25,314.4 189.5,314.1 C192.75,313.8 196,313.33 199.25,313.4 C202.5,313.47 205.76,314.17 209.01,314.5 C212.26,314.83 215.51,315.35 218.76,315.4 C222.01,315.45 225.26,315.08 228.51,314.8 C231.77,314.52 235.02,313.7 238.27,313.7 C241.52,313.7 244.77,314.37 248.02,314.8 C251.27,315.23 254.52,316.3 257.77,316.3 C261.03,316.3 264.28,315.28 267.53,314.8 C270.78,314.32 274.03,313.3 277.28,313.4 C280.53,313.5 283.78,315.22 287.04,315.4 C290.29,315.58 293.54,314.4 296.79,314.5 C300.04,314.6 303.29,316.18 306.54,316 C309.79,315.82 313.05,313.5 316.3,313.4 C319.55,313.3 322.8,315.07 326.05,315.4 C329.3,315.73 332.55,315.5 335.81,315.4 C339.06,315.3 342.31,314.95 345.56,314.8 C348.81,314.65 352.06,314.5 355.31,314.5 C358.56,314.5 361.81,314.5 365.07,314.8 C368.32,315.1 371.57,316.35 374.82,316.3 C378.07,316.25 381.32,314.68 384.57,314.5 C387.82,314.32 391.08,315 394.33,315.2 C397.58,315.4 400.83,315.32 404.08,315.7 C407.33,316.08 410.58,317.65 413.83,317.5 C417.09,317.35 420.34,315.57 423.59,314.8 C426.84,314.03 430.09,312.9 433.34,312.9 C436.59,312.9 439.85,314.33 443.1,314.8 C446.35,315.27 451.22,315.55 452.85,315.7" fill="none" stroke="#52b5fa" stroke-width="1.2"/>
<circle cx="62.7" cy="314.5" r="4.4" fill="url(#g11)"/>
<circle cx="72.45" cy="314" r="4.4" fill="url(#g11)"/>
<circle cx="82.21" cy="313.2" r="4.4" fill="url(#g11)"/>
<circle cx="91.96" cy="314.5" r="4.4" fill="url(#g11)"/>
<circle cx="101.72" cy="315.4" r="4.4" fill="url(#g11)"/>
<circle cx="111.47" cy="314.8" r="4.4" fill="url(#g11)"/>
<circle cx="121.22" cy="314.1" r="4.4" fill="url(#g11)"/>
<circle cx="130.98" cy="313.4" r="4.4" fill="url(#g11)"/>
<circle cx="140.73" cy="311.1" r="4.4" fill="url(#g11)"/>
<circle cx="150.48" cy="314.5" r="4.4" fill="url(#g11)"/>
<circle cx="160.24" cy="312.6" r="4.4" fill="url(#g11)"/>
<circle cx="169.99" cy="314.1" r="4.4" fill="url(#g11)"/>
<circle cx="179.75" cy="315.2" r="4.4" fill="url(#g11)"/>
<circle cx="189.5" cy="314.1" r="4.4" fill="url(#g11)"/>
<circle cx="199.25" cy="313.4" r="4.4" fill="url(#g11)"/>
<circle cx="209.01" cy="314.5" r="4.4" fill="url(#g11)"/>
<circle cx="218.76" cy="315.4" r="4.4" fill="url(#g11)"/>
<circle cx="228.51" cy="314.8" r="4.4" fill="url(#g11)"/>
<circle cx="238.27" cy="313.7" r="4.4" fill="url(#g11)"/>
<circle cx="248.02" cy="314.8" r="4.4" fill="url(#g11)"/>
<circle cx="257.77" cy="316.3" r="4.4" fill="url(#g11)"/>
<circle cx="267.53" cy="314.8" r="4.4" fill="url(#g11)"/>
<circle cx="277.28" cy="313.4" r="4.4" fill="url(#g11)"/>
<circle cx="287.04" cy="315.4" r="4.4" fill="url(#g11)"/>
<circle cx="296.79" cy="314.5" r="4.4" fill="url(#g11)"/>
<circle cx="306.54" cy="316" r="4.4" fill="url(#g11)"/>
<circle cx="316.3" cy="313.4" r="4.4" fill="url(#g11)"/>
<circle cx="326.05" cy="315.4" r="4.4" fill="url(#g11)"/>
<circle cx="335.81" cy="315.4" r="4.4" fill="url(#g11)"/>
<circle cx="345.56" cy="314.8" r="4.4" fill="url(#g11)"/>
<circle cx="355.31" cy="314.5" r="4.4" fill="url(#g11)"/>
<circle cx="365.07" cy="314.8" r="4.4" fill="url(#g11)"/>
<circle cx="374.82" cy="316.3" r="4.4" fill="url(#g11)"/>
<circle cx="384.57" cy="314.5" r="4.4" fill="url(#g11)"/>
<circle cx="394.33" cy="315.2" r="4.4" fill="url(#g11)"/>
<circle cx="404.08" cy="315.7" r="4.4" fill="url(#g11)"/>
<circle cx="413.83" cy="317.5" r="4.4" fill="url(#g11)"/>
<circle cx="423.59" cy="314.8" r="4.4" fill="url(#g11)"/>
<circle cx="433.34" cy="312.9" r="4.4" fill="url(#g11)"/>
<circle cx="443.1" cy="314.8" r="4.4" fill="url(#g11)"/>
<circle cx="452.85" cy="315.7" r="4.4" fill="url(#g11)"/>
</g>
<path d="M98.9,350.8 L98.9,390.73 A20.15,5.27 0 0 0 139.2,390.73 L139.2,350.8 Z" fill="url(#glass)" stroke="#c8c8c8" stroke-width="0.9"/>
<path d="M99.6,371.5 L99.6,390.73 A19.45,4.87 0 0 0 138.5,390.73 L138.5,371.5 Z" fill="url(#liq)"/>
<path d="M99.6,388.23 A19.45,4.87 0 0 0 138.5,388.23 L138.5,390.73 A19.45,4.87 0 0 1 99.6,390.73 Z" fill="#807e70" opacity="0.35"/>
<ellipse cx="119.05" cy="371.5" rx="19.45" ry="6.1" fill="#d3d1bc"/>
<ellipse cx="119.05" cy="350.8" rx="20.15" ry="6.2" fill="#e4e4e4" stroke="#a4a4a4" stroke-width="1.8"/>
<ellipse cx="119.05" cy="351.1" rx="19.05" ry="5.1" fill="none" stroke="#f8f8f8" stroke-width="0.6"/>
<polygon points="162.8,359.2 181.2,361 181.2,391.4 164,383.8" fill="url(#gcell)"/>
<polygon points="181.2,361 200.6,358 200.2,381 181.2,391.4" fill="#9e9e9e"/>
<polygon points="162.8,359.2 182.5,356.8 200.6,358 181.2,361" fill="#4e4e4e"/>
<polygon points="219.2,367.2 230.3,367.2 230.3,365.3 239.8,369.5 230.3,373.7 230.3,371.8 219.2,371.8 221.4,369.5" fill="#a9b8cf"/>
<path d="M258.2,340.7 L258.2,394 A26.5,6.21 0 0 0 311.2,394 L311.2,340.7 Z" fill="url(#glass)" stroke="#c8c8c8" stroke-width="0.9"/>
<path d="M258.9,368.5 L258.9,394 A25.8,5.8 0 0 0 310.5,394 L310.5,368.5 Z" fill="url(#liq)"/>
<path d="M258.9,391.5 A25.8,5.8 0 0 0 310.5,391.5 L310.5,394 A25.8,5.8 0 0 1 258.9,394 Z" fill="#807e70" opacity="0.35"/>
<ellipse cx="284.7" cy="368.5" rx="25.8" ry="8.1" fill="#d3d1bc"/>
<ellipse cx="284.7" cy="340.7" rx="26.5" ry="7.3" fill="#e4e4e4" stroke="#a4a4a4" stroke-width="1.8"/>
<ellipse cx="284.7" cy="341" rx="25.4" ry="6.2" fill="none" stroke="#f8f8f8" stroke-width="0.6"/>
<polygon points="274.2,380.2 285,381.8 285,399.3 274.6,393.8" fill="url(#gcell)"/>
<polygon points="285,381.8 296.1,380 295.8,393.8 285,399.3" fill="#a8a8a8"/>
<polygon points="274.2,380.2 285.5,378.6 296.1,380 285,381.8" fill="#5c5c5c"/>
<polygon points="329.9,365 341.9,365 341.9,363.1 351.4,367.3 341.9,371.5 341.9,369.6 329.9,369.6 332.1,367.3" fill="#a9b8cf"/>
<polygon points="369.4,357 388.6,358.8 388.6,391.2 370.8,382.6" fill="url(#bcell)"/>
<polygon points="388.6,358.8 409.7,356.6 408.8,382.6 388.6,391.2" fill="#bbb498"/>
<polygon points="369.4,357 390,355.2 409.7,356.6 388.6,358.8" fill="#9a9480"/>
<text x="79.5" y="424.7" font-size="11.35" text-anchor="start" fill="#000" font-weight="bold" >Zeolite slurry</text>
<text x="182.5" y="419.7" font-size="11.35" text-anchor="middle" fill="#000" font-weight="bold" >Ceramic</text>
<text x="185.9" y="434" font-size="11.35" text-anchor="middle" fill="#000" font-weight="bold" >honeycomb</text>
<text x="255" y="424.7" font-size="11.35" text-anchor="start" fill="#000" font-weight="bold" >Dip coating</text>
<text x="388.1" y="418.5" font-size="11.35" text-anchor="middle" fill="#000" font-weight="bold" >Methanol-SCR</text>
<text x="387.1" y="432.7" font-size="11.35" text-anchor="middle" fill="#000" font-weight="bold" >honeycomb</text>
<rect x="62.7" y="273.85" width="390.15" height="188.85" fill="none" stroke="#000" stroke-width="1.7"/>
<text x="460.9" y="264.3" font-size="29.6" text-anchor="start" fill="#000" font-weight="bold" >e</text>
<line x1="521.9" y1="271.8" x2="526.9" y2="271.8" stroke="#000" stroke-width="1.6" />
<text x="517.4" y="275.5" font-size="13" text-anchor="end" fill="#000" font-weight="bold" >0</text>
<line x1="523.9" y1="291.24" x2="526.9" y2="291.24" stroke="#000" stroke-width="1.6" />
<line x1="521.9" y1="310.68" x2="526.9" y2="310.68" stroke="#000" stroke-width="1.6" />
<text x="517.4" y="314.38" font-size="13" text-anchor="end" fill="#000" font-weight="bold" >-10</text>
<line x1="523.9" y1="330.12" x2="526.9" y2="330.12" stroke="#000" stroke-width="1.6" />
<line x1="521.9" y1="349.56" x2="526.9" y2="349.56" stroke="#000" stroke-width="1.6" />
<text x="517.4" y="353.26" font-size="13" text-anchor="end" fill="#000" font-weight="bold" >-20</text>
<line x1="523.9" y1="369" x2="526.9" y2="369" stroke="#000" stroke-width="1.6" />
<line x1="521.9" y1="388.44" x2="526.9" y2="388.44" stroke="#000" stroke-width="1.6" />
<text x="517.4" y="392.14" font-size="13" text-anchor="end" fill="#000" font-weight="bold" >-30</text>
<line x1="523.9" y1="407.88" x2="526.9" y2="407.88" stroke="#000" stroke-width="1.6" />
<line x1="521.9" y1="427.32" x2="526.9" y2="427.32" stroke="#000" stroke-width="1.6" />
<text x="517.4" y="431.02" font-size="13" text-anchor="end" fill="#000" font-weight="bold" >-40</text>
<line x1="523.9" y1="446.76" x2="526.9" y2="446.76" stroke="#000" stroke-width="1.6" />
<line x1="521.9" y1="466.2" x2="526.9" y2="466.2" stroke="#000" stroke-width="1.6" />
<text x="517.4" y="469.9" font-size="13" text-anchor="end" fill="#000" font-weight="bold" >-50</text>
<text transform="translate(490.8,367.4) rotate(-90)" font-size="13.75" text-anchor="middle" font-weight="bold">Adsorption energy (kcal/mol)</text>
<rect x="538.75" y="271.8" width="34.65" height="20.22" fill="url(#bar0)"/>
<text x="555.88" y="309.8" font-size="14.2" text-anchor="middle" fill="#000" font-weight="bold" letter-spacing="-0.3">-5.2</text>
<rect x="535.4" y="408.9" width="26" height="11.4" fill="url(#bar0)"/>
<rect x="587" y="271.8" width="34" height="33.44" fill="url(#bar1)"/>
<text x="603.8" y="322.8" font-size="14.2" text-anchor="middle" fill="#000" font-weight="bold" letter-spacing="-0.3">-8.6</text>
<rect x="535.4" y="424.8" width="26" height="11.4" fill="url(#bar1)"/>
<rect x="635.3" y="271.8" width="34.45" height="97.98" fill="url(#bar2)"/>
<text x="652.32" y="387.8" font-size="14.2" text-anchor="middle" fill="#000" font-weight="bold" letter-spacing="-0.3">-25.2</text>
<rect x="535.4" y="443.7" width="26" height="11.4" fill="url(#bar2)"/>
<text x="566.75" y="418.75" font-size="12" text-anchor="start" fill="#000" font-weight="bold" >NO</text>
<text x="566.75" y="435" font-size="12" text-anchor="start" fill="#000" font-weight="bold" >NO<tspan font-size="8.8" dy="2.5">2</tspan></text>
<text x="566.75" y="453.75" font-size="12" text-anchor="start" fill="#000" font-weight="bold" >CH<tspan font-size="8.8" dy="2.5">3</tspan><tspan dy="-2.5">OH</tspan></text>
<rect x="526.9" y="271.8" width="150" height="194.4" fill="none" stroke="#000" stroke-width="1.7"/>
</svg></body></html>
